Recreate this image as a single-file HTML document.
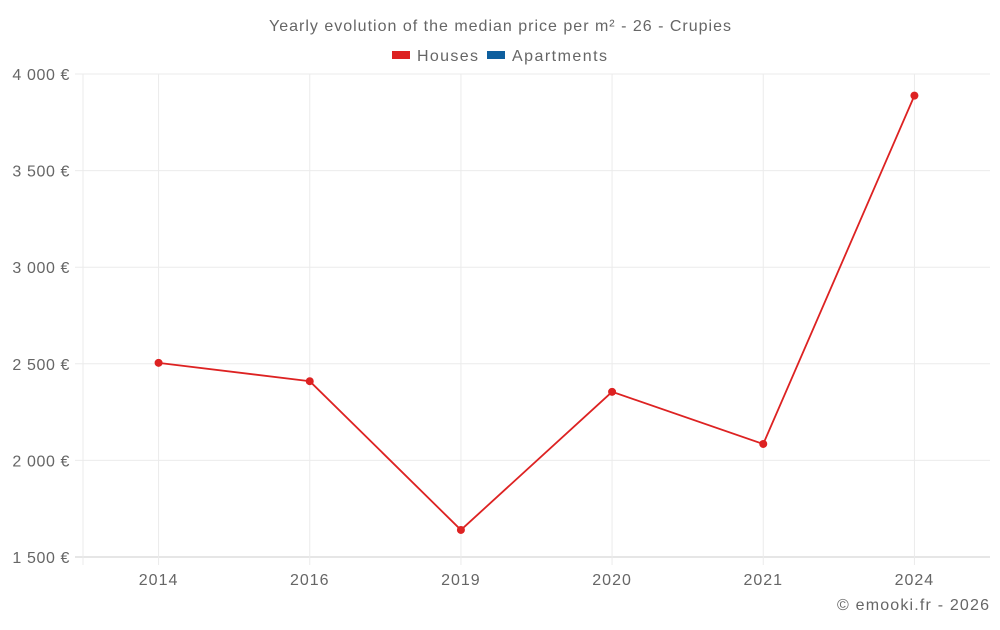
<!DOCTYPE html>
<html><head><meta charset="utf-8"><style>
html,body{margin:0;padding:0;background:#fff;}
svg text{font-family:"Liberation Sans",sans-serif;fill:#666;}
</style></head><body>
<svg id="chart" width="1000" height="625">
<text x="269" y="31" font-size="16" textLength="462" lengthAdjust="spacing">Yearly evolution of the median price per m² - 26 - Crupies</text>
<g>
<g><rect x="392" y="51" width="18" height="8" fill="#dd2222"/><text x="417" y="61" font-size="16" textLength="61" lengthAdjust="spacing">Houses</text></g>
<g><rect x="487" y="51" width="18" height="8" fill="#0e5f9e"/><text x="512" y="61" font-size="16" textLength="95" lengthAdjust="spacing">Apartments</text></g>
</g>
<g id="grid"></g><g id="axes"></g><g id="series"></g>
<text x="837" y="610" font-size="16" textLength="152" lengthAdjust="spacing">© emooki.fr - 2026</text>
</svg>
<script>
const categories=["2014","2016","2019","2020","2021","2024"];
const houses=[2505,2410,1640,2355,2085,3888];
const yTicks=[1500,2000,2500,3000,3500,4000];
const yTickLabels=["1 500 €","2 000 €","2 500 €","3 000 €","3 500 €","4 000 €"];
const NS="http://www.w3.org/2000/svg";
const L=83,R=990,T=74,B=557,yMin=1500,yMax=4000;
const band=(R-L)/categories.length;
function xs(i){return L+band*(i+0.5);}
function ys(v){return B-(v-yMin)/(yMax-yMin)*(B-T);}
function mk(tag,attrs,parent){const e=document.createElementNS(NS,tag);for(const k in attrs)e.setAttribute(k,attrs[k]);parent.appendChild(e);return e;}
const grid=document.getElementById('grid'),axes=document.getElementById('axes'),series=document.getElementById('series');
yTicks.forEach((v,i)=>{
 const l=mk('line',{x1:75,x2:R,y1:ys(v),y2:ys(v),stroke:i===0?'#ccc':'#ebebeb','stroke-width':1},grid);
 
 
 const t=mk('text',{x:70,y:ys(v)+6,'text-anchor':'end','font-size':16,'letter-spacing':0.6},axes);
 t.textContent=yTickLabels[i];
 
 
});
const ax=mk('line',{x1:L,x2:L,y1:T,y2:B+8,stroke:'#ebebeb'},grid);


categories.forEach((c,i)=>{
 const l=mk('line',{x1:xs(i),x2:xs(i),y1:T,y2:B+8,stroke:'#ebebeb'},grid);
 
 
 const t=mk('text',{x:xs(i),y:585,'text-anchor':'middle','font-size':16,'letter-spacing':1},axes);
 t.textContent=c;
 
 
});
const pl=mk('polyline',{points:houses.map((v,i)=>xs(i)+','+ys(v)).join(' '),fill:'none',stroke:'#dd2222','stroke-width':1.8},series);


houses.forEach((v,i)=>{
 const p=mk('circle',{cx:xs(i),cy:ys(v),r:4,fill:'#dd2222'},series);
 
 
});
</script>
</body></html>
